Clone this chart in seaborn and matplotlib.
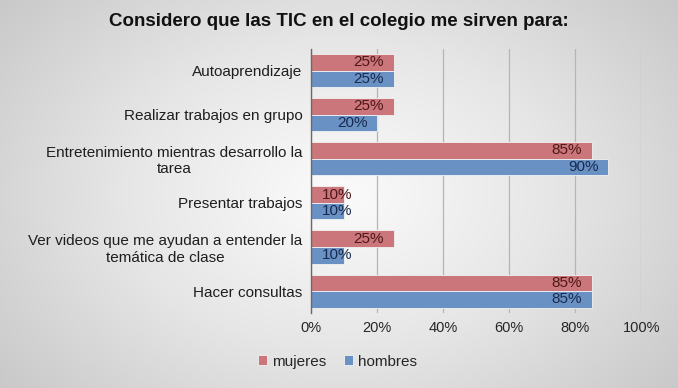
import numpy as np
import pandas as pd
import seaborn as sns
import matplotlib.pyplot as plt
from matplotlib.colors import LinearSegmentedColormap

categorias = ['Autoaprendizaje',
              'Realizar trabajos en grupo',
              'Entretenimiento mientras desarrollo la\ntarea',
              'Presentar trabajos',
              'Ver videos que me ayudan a entender la\ntemática de clase',
              'Hacer consultas']
mujeres = [25, 25, 85, 10, 25, 85]
hombres = [25, 20, 90, 10, 10, 85]
series = ['mujeres', 'hombres']
colores = ['#d8686d', '#5b8fd2']
colores_texto = ['#4f1717', '#172a4f']
xticks = [0, 20, 40, 60, 80, 100]

df = pd.DataFrame({
    'categoria': categorias * 2,
    'valor': mujeres + hombres,
    'serie': ['mujeres'] * len(categorias) + ['hombres'] * len(categorias),
})

sns.set_style('white')
plt.rcParams['font.family'] = ['Liberation Sans', 'DejaVu Sans']

fig = plt.figure(figsize=(6.78, 3.88), dpi=100)

# fondo gris claro con degradado radial
bg = fig.add_axes([0, 0, 1, 1], zorder=-10)
yy, xx = np.mgrid[-1:1:200j, -1:1:300j]
r = np.sqrt(xx ** 2 + (0.8 * yy) ** 2) / np.sqrt(1.64)
cmap_bg = LinearSegmentedColormap.from_list('bg', ['#fbfbfb', '#e6e6e6', '#c9c9c9'])
bg.imshow(r, cmap=cmap_bg, vmin=0, vmax=1, aspect='auto', extent=[0, 1, 0, 1])
bg.axis('off')

ax = fig.add_axes([0.4587, 0.193, 0.487, 0.682])
ax.set_facecolor('none')

sns.barplot(data=df, y='categoria', x='valor', hue='serie', order=categorias,
            hue_order=series, palette=colores, orient='h', width=0.75,
            edgecolor='#f2f2f2', linewidth=0.6, ax=ax)

for cont, col in zip(ax.containers, colores_texto):
    for bar in cont:
        v = bar.get_width()
        yc = bar.get_y() + bar.get_height() / 2
        if v < 15:
            ax.annotate(f'{v:.0f}%', (0, yc), xytext=(8, 0), textcoords='offset points',
                        ha='left', va='center', fontsize=11, color=col)
        else:
            ax.annotate(f'{v:.0f}%', (v, yc), xytext=(-7, 0), textcoords='offset points',
                        ha='right', va='center', fontsize=11, color=col)

ax.set_xlim(0, 100)
ax.set_xticks(xticks)
ax.set_xticklabels([f'{t}%' for t in xticks], fontsize=10.5, color='#262626')
ax.set_yticks(range(len(categorias)))
ax.set_yticklabels(categorias, fontsize=11, color='#1e1e1e', multialignment='center')
ax.xaxis.grid(True, color='#b5b5b5', linewidth=0.9)
ax.set_axisbelow(True)
ax.tick_params(axis='both', length=0, pad=6)
ax.set_xlabel('')
ax.set_ylabel('')
for s in ['top', 'right', 'bottom']:
    ax.spines[s].set_visible(False)
ax.spines['left'].set_color('#6a6a6a')
ax.spines['left'].set_linewidth(1.0)

ax.legend(loc='upper center', bbox_to_anchor=(0.08, -0.105), ncol=2, frameon=False,
          fontsize=11, handlelength=0.6, handleheight=0.6, handletextpad=0.3,
          columnspacing=1.2)

fig.text(0.5, 0.945, 'Considero que las TIC en el colegio me sirven para:',
         ha='center', va='center', fontsize=13.5, fontweight='bold', color='#111111')

fig.savefig('out.png', dpi=100)
